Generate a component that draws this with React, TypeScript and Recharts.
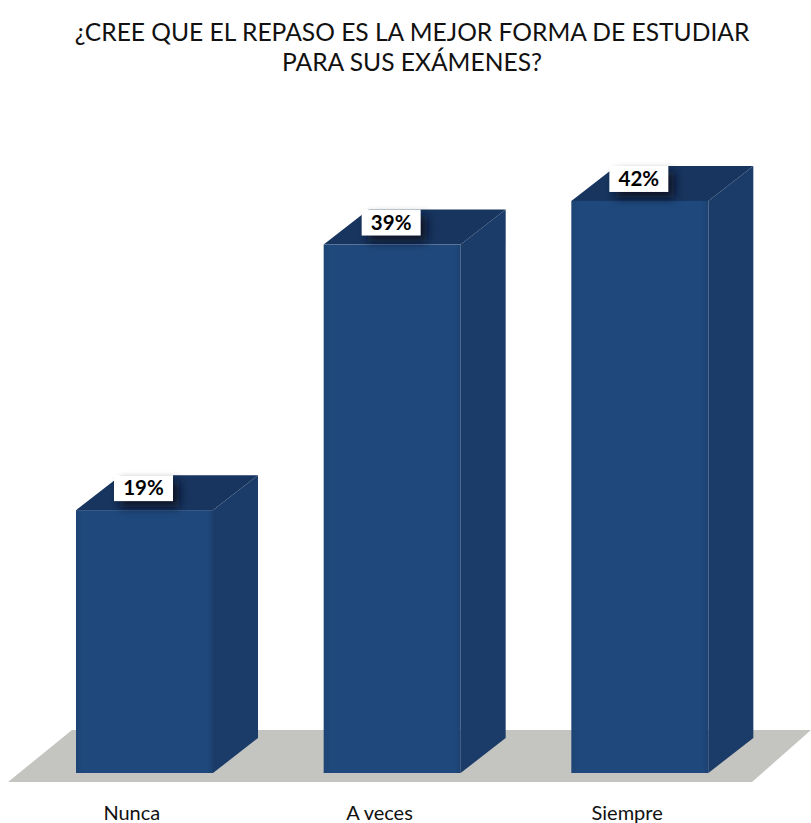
import { Bar, BarChart, LabelList, XAxis, YAxis } from 'recharts';

const categories = ['Nunca', 'A veces', 'Siempre'];
const percentages = [19.3, 38.8, 42];
const titleLines = ['¿CREE QUE EL REPASO ES LA MEJOR FORMA DE ESTUDIAR', 'PARA SUS EXÁMENES?'];

const data = categories.map((name, i) => ({ name, value: percentages[i] }));

const FONT = 'Lato, sans-serif';
const DEPTH_X = 45;
const DEPTH_Y = 35;

// caja 3D: frente, tapa y lateral
function Box3D({ x, y, width, height }: any) {
  const r = x + width;
  const b = y + height;
  return (
    <g>
      <polygon
        points={`${x},${y} ${x + DEPTH_X},${y - DEPTH_Y} ${r + DEPTH_X},${y - DEPTH_Y} ${r},${y}`}
        fill="#17355f"
      />
      <polygon
        points={`${r},${y} ${r + DEPTH_X},${y - DEPTH_Y} ${r + DEPTH_X},${b - DEPTH_Y} ${r},${b}`}
        fill="#1b3c68"
      />
      <rect x={x} y={y} width={width} height={height} fill="url(#frontFill)" />
    </g>
  );
}

function PercentLabel({ x, y, value }: any) {
  const boxX = x + 38;
  const boxY = y - 35;
  return (
    <g>
      <rect x={boxX + 6} y={boxY + 6} width={59} height={26} fill="#07101f" opacity={0.85} filter="url(#labelShadow)" />
      <rect x={boxX} y={boxY} width={59} height={26} fill="#ffffff" />
      <text
        x={boxX + 29.5}
        y={boxY + 20}
        textAnchor="middle"
        fontFamily={FONT}
        fontWeight={700}
        fontSize={20.5}
        fill="#000000"
      >
        {Math.round(value)}%
      </text>
    </g>
  );
}

export default function App() {
  return (
    <div style={{ position: 'absolute', left: 0, top: 0, width: 811, height: 823, background: '#fff' }}>
      <BarChart
        width={811}
        height={823}
        data={data}
        margin={{ top: 92, right: 47, bottom: 20, left: 21 }}
      >
        <defs>
          <linearGradient id="frontFill" x1="0" y1="0" x2="1" y2="0">
            <stop offset="0" stopColor="#1d4474" />
            <stop offset="0.06" stopColor="#1f497d" />
            <stop offset="0.95" stopColor="#1f497d" />
            <stop offset="1" stopColor="#1c4170" />
          </linearGradient>
          <filter id="labelShadow" x="-30%" y="-50%" width="160%" height="200%">
            <feGaussianBlur stdDeviation="5" />
          </filter>
        </defs>
        <polygon points="8,782 72,730 811,730 752,782" fill="#c4c4c0" />
        {titleLines.map((line, i) => (
          <text
            key={line}
            x={412}
            y={41 + i * 30}
            textAnchor="middle"
            fontFamily={FONT}
            fontSize={24.6}
            fill="#111111"
          >
            {line}
          </text>
        ))}
        <XAxis
          dataKey="name"
          axisLine={false}
          tickLine={false}
          dy={25}
          dx={-13}
          tick={{ fontFamily: FONT, fontSize: 20, fill: '#111111' }}
        />
        <YAxis hide domain={[0, 50]} />
        <Bar dataKey="value" barSize={137} shape={<Box3D />} isAnimationActive={false}>
          <LabelList dataKey="value" content={<PercentLabel />} />
        </Bar>
      </BarChart>
    </div>
  );
}
